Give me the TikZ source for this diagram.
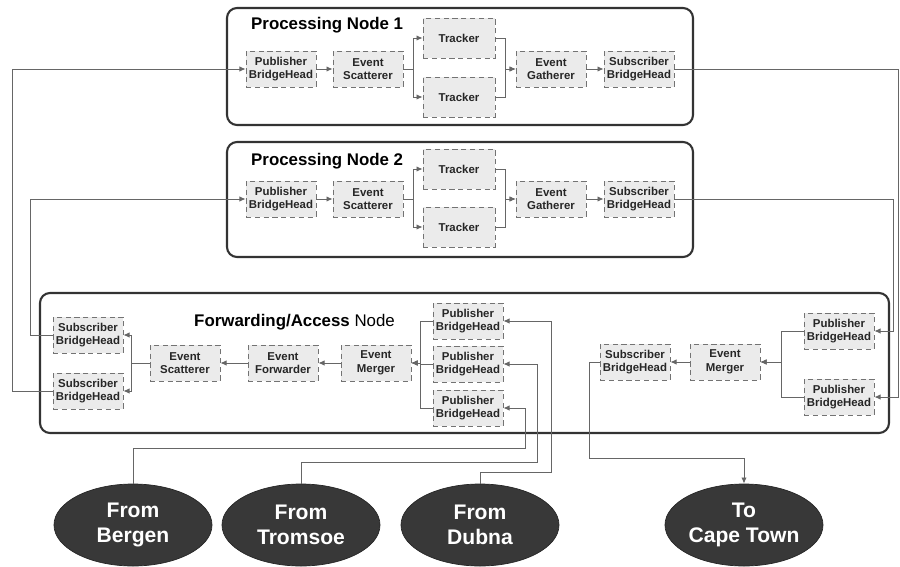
\documentclass[tikz,border=0pt]{standalone}
\usepackage{fontspec}
\setmainfont{Liberation Sans}
\usetikzlibrary{arrows.meta,shapes.geometric,positioning}

\begin{document}
\begin{tikzpicture}[x=0.2mm,y=-0.2mm,
  box/.style={draw=black!55,densely dashed,fill=black!8,align=center,minimum width=14mm,minimum height=7.2mm,inner sep=1pt,text=black!85,font=\fontsize{6.5}{7.8}\selectfont\bfseries},
  tracker/.style={box,minimum width=14.4mm,minimum height=8mm},
  frame/.style={draw=black!80,line width=1.2pt,rounded corners=2mm},
  title/.style={anchor=west,font=\fontsize{9.6}{12}\selectfont\bfseries},
  site/.style={ellipse,fill=black!78,draw=black!85,text=white,align=center,minimum width=31.6mm,minimum height=16.4mm,inner sep=0pt,font=\fontsize{12}{14.5}\selectfont\bfseries},
  link/.style={draw=black!60,line width=0.5pt,-{Latex[length=3.5pt,width=3pt]}}]

\useasboundingbox (0,0) rectangle (900,566);

\draw[frame] (227,8) rectangle (693,125);
\draw[frame] (227,142) rectangle (693,257);
\draw[frame] (40,293) rectangle (889,433);

\node[title] (pn1) at (245,25) {Processing Node 1};
\node[title] (pn2) at (245,161) {Processing Node 2};
\node[title] (fan) at (188,322) {Forwarding/Access \mdseries Node};

\node[box] (p1pub) at (281,69) {Publisher\\BridgeHead};
\node[box] (p1scat) at (368,69) {Event\\Scatterer};
\node[tracker] (p1trkA) at (459,38) {Tracker};
\node[tracker] (p1trkB) at (459,97) {Tracker};
\node[box] (p1gath) at (551,69) {Event\\Gatherer};
\node[box] (p1sub) at (639,69) {Subscriber\\BridgeHead};

\node[box] (p2pub) at (281,199) {Publisher\\BridgeHead};
\node[box] (p2scat) at (368,199) {Event\\Scatterer};
\node[tracker] (p2trkA) at (459,169) {Tracker};
\node[tracker] (p2trkB) at (459,227) {Tracker};
\node[box] (p2gath) at (551,199) {Event\\Gatherer};
\node[box] (p2sub) at (639,199) {Subscriber\\BridgeHead};

\node[box] (fsubA) at (88,335) {Subscriber\\BridgeHead};
\node[box] (fsubB) at (88,391) {Subscriber\\BridgeHead};
\node[box] (fscat) at (185,363) {Event\\Scatterer};
\node[box] (ffwd) at (283,363) {Event\\Forwarder};
\node[box] (fmerge) at (376,363) {Event\\Merger};
\node[box] (fpubA) at (468,321) {Publisher\\BridgeHead};
\node[box] (fpubB) at (468,364) {Publisher\\BridgeHead};
\node[box] (fpubC) at (468,408) {Publisher\\BridgeHead};
\node[box] (fsubR) at (635,362) {Subscriber\\BridgeHead};
\node[box] (fmergeR) at (725,362) {Event\\Merger};
\node[box] (fpubRA) at (839,331) {Publisher\\BridgeHead};
\node[box] (fpubRB) at (839,397) {Publisher\\BridgeHead};

\node[site] (bergen) at (133,525) {From\\Bergen};
\node[site] (tromsoe) at (301,525) {From\\Tromsoe};
\node[site] (dubna) at (480,525) {From\\Dubna};
\node[site] (capetown) at (744,525) {To\\Cape Town};

\draw[link] (p1pub) -- (p1scat);
\draw[link] (p1scat.east) -- ++(10,0) |- (p1trkA.west);
\draw[link] (p1scat.east) -- ++(10,0) |- (p1trkB.west);
\draw[link] (p1trkA.east) -- ++(10,0) |- (p1gath.west);
\draw[link] (p1trkB.east) -- ++(10,0) |- (p1gath.west);
\draw[link] (p1gath) -- (p1sub);

\draw[link] (p2pub) -- (p2scat);
\draw[link] (p2scat.east) -- ++(10,0) |- (p2trkA.west);
\draw[link] (p2scat.east) -- ++(10,0) |- (p2trkB.west);
\draw[link] (p2trkA.east) -- ++(10,0) |- (p2gath.west);
\draw[link] (p2trkB.east) -- ++(10,0) |- (p2gath.west);
\draw[link] (p2gath) -- (p2sub);

\draw[link] (fpubA.west) -- ++(-12,0) |- (fmerge.east);
\draw[link] (fpubB.west) -- ++(-12,0) |- (fmerge.east);
\draw[link] (fpubC.west) -- ++(-12,0) |- (fmerge.east);
\draw[link] (fmerge) -- (ffwd);
\draw[link] (ffwd) -- (fscat);
\draw[link] (fscat.west) -- ++(-18,0) |- (fsubA.east);
\draw[link] (fscat.west) -- ++(-18,0) |- (fsubB.east);

\draw[link] (fpubRA.west) -- ++(-22,0) |- (fmergeR.east);
\draw[link] (fpubRB.west) -- ++(-22,0) |- (fmergeR.east);
\draw[link] (fmergeR) -- (fsubR);

\draw[link] (fsubA.west) -| (30,199) -- (p2pub.west);
\draw[link] (fsubB.west) -| (12,69) -- (p1pub.west);
\draw[link] (p1sub.east) -| (898,397) -- (fpubRB.east);
\draw[link] (p2sub.east) -| (893,331) -- (fpubRA.east);

\draw[link] (bergen.north) |- (525,448) |- (fpubC.east);
\draw[link] (tromsoe.north) |- (537,462) |- (fpubB.east);
\draw[link] (dubna.north) |- (551,472) |- (fpubA.east);
\draw[link] (fsubR.west) -| (589,458) -| (capetown.north);
\end{tikzpicture}
\end{document}
